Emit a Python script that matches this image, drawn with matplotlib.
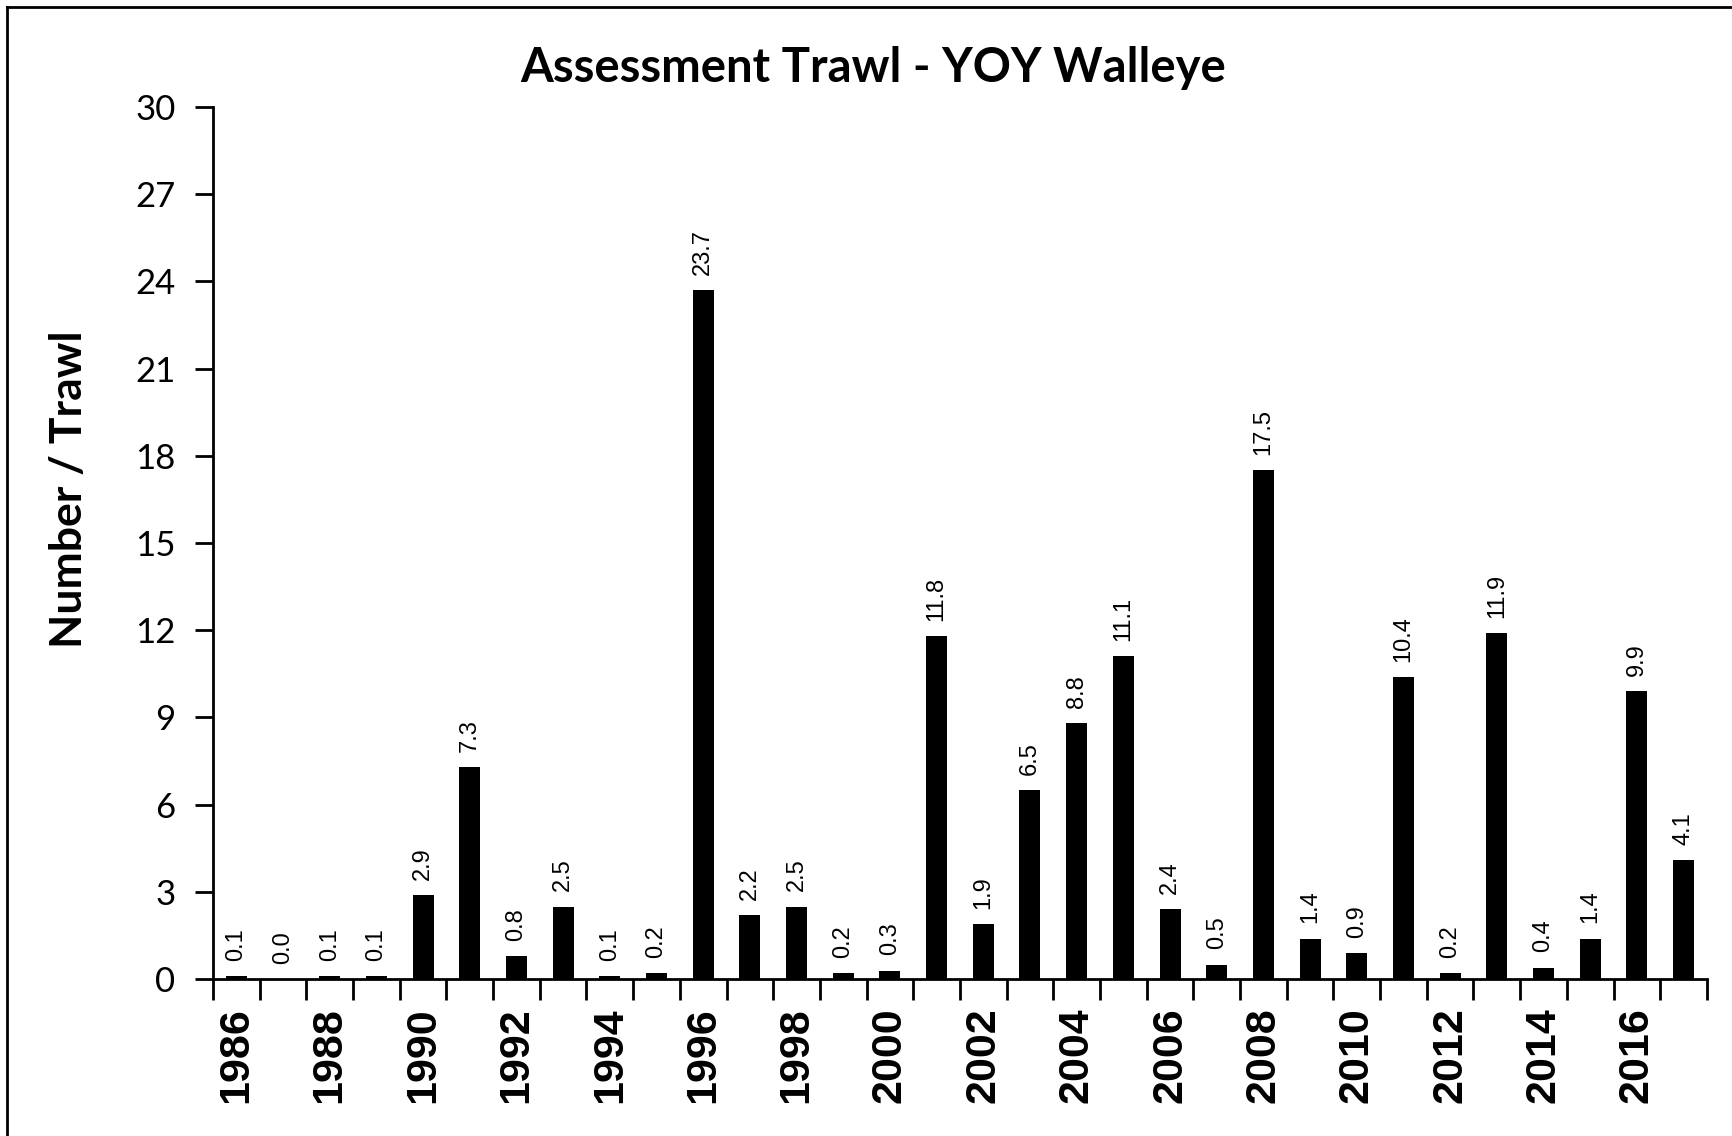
import numpy as np
import matplotlib
matplotlib.use('Agg')
from matplotlib import pyplot as plt
from matplotlib.lines import Line2D

years = list(range(1986, 2018))
values = [0.1, 0.0, 0.1, 0.1, 2.9, 7.3, 0.8, 2.5, 0.1, 0.2,
          23.7, 2.2, 2.5, 0.2, 0.3, 11.8, 1.9, 6.5, 8.8, 11.1,
          2.4, 0.5, 17.5, 1.4, 0.9, 10.4, 0.2, 11.9, 0.4, 1.4,
          9.9, 4.1]
y_ticks = [0, 3, 6, 9, 12, 15, 18, 21, 24, 27, 30]

fig = plt.figure(figsize=(17.32, 11.36), dpi=100)
ax = fig.add_axes([0.123, 0.138, 0.8625, 0.768])

x = np.arange(len(years))
bars = ax.bar(x, values, width=0.45, color='black')
for xi, v in zip(x, values):
    ax.annotate(f'{v:.1f}', (xi, v), xytext=(0, 11), textcoords='offset points',
                rotation=90, ha='center', va='bottom', fontsize=17,
                family='Liberation Sans')

ax.set_xlim(-0.5, len(years) - 0.5)
ax.set_ylim(0, 30)
ax.set_yticks(y_ticks)
ax.set_yticklabels([str(t) for t in y_ticks], family='Lato', fontsize=25)

ax.set_xticks(x[::2])
ax.set_xticklabels([str(y) for y in years[::2]], rotation=90,
                   family='Liberation Sans', fontweight='bold', fontsize=31)
ax.set_xticks(np.arange(-0.5, len(years)), minor=True)
ax.tick_params(axis='x', which='major', length=0, pad=20)
ax.tick_params(axis='x', which='minor', length=15, width=2)
ax.tick_params(axis='y', length=13, width=2, pad=14)

for s in ['top', 'right']:
    ax.spines[s].set_visible(False)
for s in ['left', 'bottom']:
    ax.spines[s].set_linewidth(2)

ax.set_ylabel('Number / Trawl', family='Lato', fontweight='bold', fontsize=32)
ax.yaxis.set_label_coords(-0.083, 0.562)
fig.text(0.504, 0.94, 'Assessment Trawl - YOY Walleye', ha='center', va='center',
         family='Lato', fontweight='bold', fontsize=34)

# outer frame (left and top edges visible in the original)
fig.add_artist(Line2D([0.004, 0.004], [0, 0.994], color='black', lw=2, transform=fig.transFigure))
fig.add_artist(Line2D([0.004, 1], [0.994, 0.994], color='black', lw=2, transform=fig.transFigure))

fig.savefig('out.png', dpi=100)
